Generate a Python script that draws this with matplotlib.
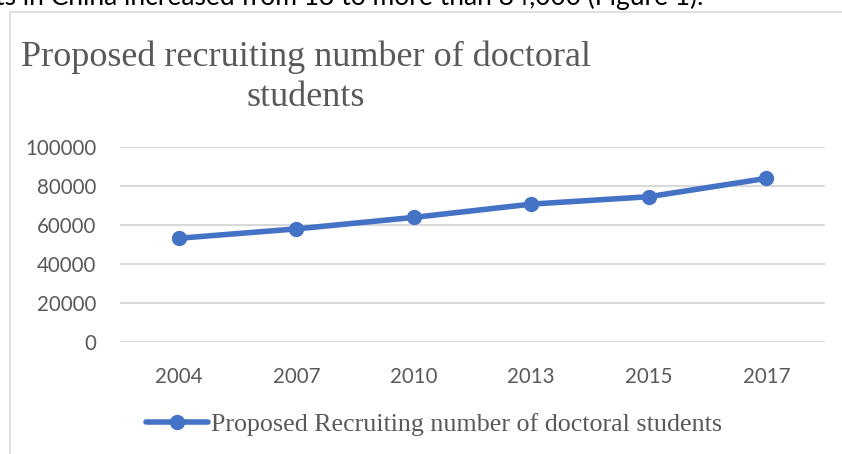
import matplotlib
matplotlib.use("Agg")
import matplotlib.pyplot as plt
from matplotlib.patches import Rectangle

years = ["2004", "2007", "2010", "2013", "2015", "2017"]
values = [53200, 58000, 63900, 70700, 74500, 83900]
yticks = [0, 20000, 40000, 60000, 80000, 100000]
title = "Proposed recruiting number of doctoral\nstudents"
series_name = "Proposed Recruiting number of doctoral students"
top_text = "ts in China increased from 13 to more than 84,000 (Figure 1)."

blue = "#4472C4"
grey_text = "#595959"
grid_col = "#D9D9D9"

fig = plt.figure(figsize=(8.42, 4.54), dpi=100)
fig.patch.set_facecolor("white")

# chart border (cropped on right/bottom)
fig.patches.append(Rectangle((10/842, -0.05), 1.0, 1 - 12/454 + 0.05,
                             transform=fig.transFigure, fill=False,
                             edgecolor=grid_col, linewidth=1.2))

# cropped body text at top
fig.text(-0.006, 1 - 5/454, top_text, fontsize=19, family="Lato",
         color="black", va="baseline", ha="left")

ax = fig.add_axes([120/842, 1 - 342/454, 705/842, (342 - 147)/454])
x = list(range(len(years)))
ax.plot(x, values, color=blue, linewidth=4, marker="o", markersize=10,
        solid_capstyle="round", label=series_name, zorder=3)
ax.set_xlim(-0.5, len(years) - 0.5)
ax.set_ylim(0, 100000)
ax.set_yticks(yticks)
ax.set_yticklabels([str(v) for v in yticks])
ax.set_xticks(x)
ax.set_xticklabels(years)
ax.grid(axis="y", color=grid_col, linewidth=1.5)
ax.set_axisbelow(True)
for s in ax.spines.values():
    s.set_visible(False)
ax.tick_params(length=0, labelsize=14.8, labelcolor=grey_text)
for lab in ax.get_xticklabels() + ax.get_yticklabels():
    lab.set_family("Lato")
ax.tick_params(axis="y", pad=17)
ax.tick_params(axis="x", pad=18)

fig.text(306/842, 1 - 77/454, title, fontsize=26, family="Liberation Serif",
         color=grey_text, ha="center", va="center", linespacing=1.3)

leg = fig.legend(handles=ax.get_lines(), loc="center", bbox_to_anchor=(434/842, 1 - 424/454),
                 frameon=False, prop={"family": "Liberation Serif", "size": 18.7},
                 handlelength=2.4, handletextpad=0.1, labelcolor=grey_text)

fig.savefig("out.png", dpi=100)
